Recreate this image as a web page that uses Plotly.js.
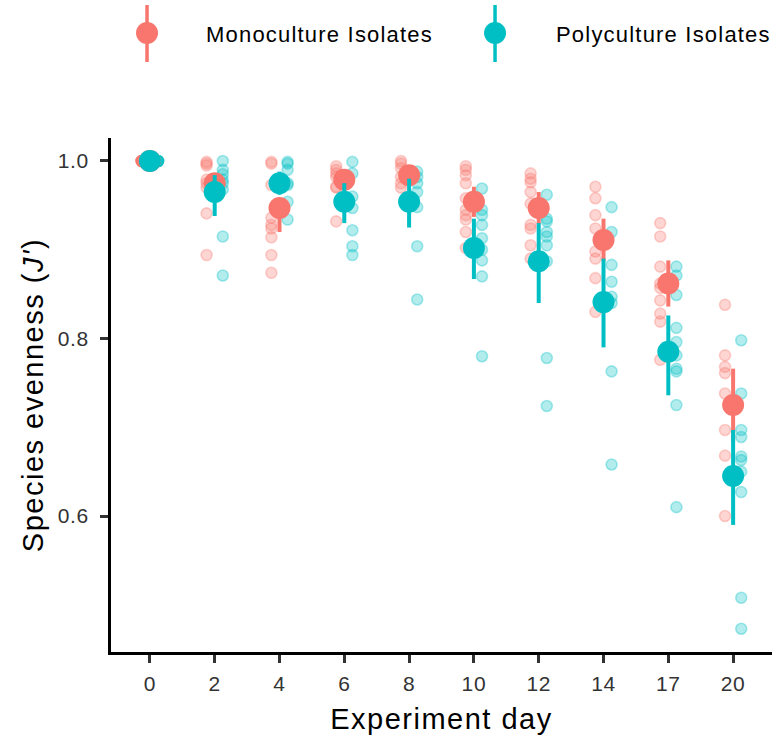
<!DOCTYPE html>
<html>
<head>
<meta charset="utf-8">
<script src="https://cdn.plot.ly/plotly-3.0.1.min.js"></script>
<style>
  html, body { margin: 0; padding: 0; background: #fff; }
  #chart { width: 776px; height: 744px; }
  /* slightly open tracking for the larger text */
  #chart .xtitle, #chart .ytitle { letter-spacing: 1.5px; }
  #chart .annotation-text { letter-spacing: 1.2px; }
  #chart .xtick text, #chart .ytick text { letter-spacing: 0.6px; }
</style>
</head>
<body>
<div id="chart"></div>
<script>
// Experiment days (discrete axis categories)
const days = ['0', '2', '4', '6', '8', '10', '12', '14', '17', '20'];

// Per-replicate evenness values, one list per day
const monoPoints = [
  [1.0, 1.0, 1.0, 1.0, 1.0, 1.0, 1.0, 1.0],
  [0.999, 0.997, 0.995, 0.979, 0.975, 0.970, 0.941, 0.894],
  [0.999, 0.997, 0.973, 0.936, 0.928, 0.924, 0.914, 0.894, 0.874],
  [0.994, 0.990, 0.986, 0.982, 0.971, 0.970, 0.932],
  [1.0, 0.997, 0.992, 0.982, 0.975, 0.970],
  [0.994, 0.990, 0.984, 0.975, 0.958, 0.945, 0.939, 0.934, 0.920, 0.902],
  [0.986, 0.980, 0.976, 0.965, 0.952, 0.928, 0.924, 0.905, 0.890],
  [0.971, 0.958, 0.939, 0.924, 0.898, 0.890, 0.868, 0.830],
  [0.930, 0.915, 0.881, 0.862, 0.857, 0.843, 0.828, 0.819, 0.776],
  [0.838, 0.781, 0.768, 0.761, 0.738, 0.697, 0.668, 0.600]
];
const polyPoints = [
  [1.0, 1.0, 1.0, 1.0, 1.0, 1.0],
  [1.0, 0.990, 0.985, 0.979, 0.975, 0.968, 0.915, 0.871],
  [0.999, 0.997, 0.990, 0.975, 0.973, 0.954, 0.934],
  [0.999, 0.986, 0.960, 0.947, 0.922, 0.904, 0.894],
  [0.988, 0.982, 0.975, 0.965, 0.948, 0.904, 0.844],
  [0.969, 0.945, 0.939, 0.928, 0.913, 0.900, 0.888, 0.870, 0.780],
  [0.962, 0.935, 0.932, 0.920, 0.915, 0.905, 0.887, 0.778, 0.724],
  [0.948, 0.920, 0.883, 0.864, 0.847, 0.840, 0.763, 0.658],
  [0.881, 0.871, 0.849, 0.812, 0.796, 0.781, 0.766, 0.763, 0.725, 0.610],
  [0.798, 0.738, 0.697, 0.689, 0.667, 0.663, 0.650, 0.627, 0.508, 0.473]
];

// Group means with lower / upper interval limits
const monoMean  = [1.0, 0.975, 0.947, 0.979, 0.984, 0.954, 0.947, 0.911, 0.862, 0.725];
const monoLow   = [1.0, 0.965, 0.920, 0.968, 0.975, 0.937, 0.929, 0.887, 0.836, 0.684];
const monoHigh  = [1.0, 0.985, 0.958, 0.990, 0.993, 0.971, 0.965, 0.935, 0.888, 0.766];
const polyMean  = [1.0, 0.965, 0.975, 0.954, 0.954, 0.902, 0.887, 0.841, 0.785, 0.645];
const polyLow   = [1.0, 0.938, 0.962, 0.930, 0.925, 0.867, 0.840, 0.790, 0.736, 0.590];
const polyHigh  = [1.0, 0.984, 0.988, 0.975, 0.980, 0.935, 0.930, 0.890, 0.826, 0.697];

const groupNames = ['Monoculture Isolates', 'Polyculture Isolates'];
const yTicks = [0.6, 0.8, 1.0];

const RED = '#F8766D';
const TEAL = '#00BFC4';
const FONT = 'Liberation Sans, Arial, Helvetica, sans-serif';
const DODGE = 0.125;

function flatten(groups, offset) {
  const x = [], y = [];
  groups.forEach((vals, i) => vals.forEach(v => { x.push(i + offset); y.push(v); }));
  return { x, y };
}

function pointTrace(groups, offset, rgb, name) {
  const d = flatten(groups, offset);
  return {
    type: 'scatter', mode: 'markers', name: name, showlegend: false,
    x: d.x, y: d.y, hoverinfo: 'y',
    marker: {
      size: 11,
      color: 'rgba(' + rgb + ',0.30)',
      line: { color: 'rgba(' + rgb + ',0.33)', width: 1.6 }
    }
  };
}

function meanTrace(mean, low, high, color, name) {
  return {
    type: 'scatter', mode: 'markers', name: name, showlegend: false,
    x: days.map((_, i) => i), y: mean,
    marker: { size: 22, color: color },
    error_y: {
      type: 'data', symmetric: false,
      array: high.map((h, i) => h - mean[i]),
      arrayminus: mean.map((m, i) => m - low[i]),
      color: color, thickness: 4, width: 0
    }
  };
}

const traces = [
  pointTrace(monoPoints, -DODGE, '248,118,109', groupNames[0]),
  pointTrace(polyPoints, DODGE, '0,191,196', groupNames[1]),
  meanTrace(monoMean, monoLow, monoHigh, RED, groupNames[0]),
  meanTrace(polyMean, polyLow, polyHigh, TEAL, groupNames[1])
];

// Legend key: vertical interval line with a filled dot, drawn above the panel
function legendKey(xp, color) {
  return [
    { type: 'line', xref: 'paper', yref: 'paper', xsizemode: 'pixel', ysizemode: 'pixel',
      xanchor: xp, yanchor: 1.2043, x0: 0, x1: 0, y0: -29, y1: 28,
      line: { color: color, width: 3.5 } },
    { type: 'circle', xref: 'paper', yref: 'paper', xsizemode: 'pixel', ysizemode: 'pixel',
      xanchor: xp, yanchor: 1.2043, x0: -11, x1: 11, y0: -11, y1: 11,
      fillcolor: color, line: { width: 0 } }
  ];
}

const layout = {
  width: 776, height: 744,
  margin: { l: 111, r: 4, t: 138, b: 92 },
  paper_bgcolor: '#fff', plot_bgcolor: '#fff',
  showlegend: false,
  font: { family: FONT, color: '#000' },
  xaxis: {
    range: [-0.6, 9.6],
    tickvals: days.map((_, i) => i), ticktext: days,
    showgrid: false, zeroline: false,
    showline: true, linecolor: '#000', linewidth: 3,
    ticks: 'outside', ticklen: 8, tickwidth: 3, tickcolor: '#333',
    ticklabelstandoff: 3,
    tickfont: { size: 21, color: '#333', family: FONT },
    title: { text: 'Experiment day', font: { size: 29, color: '#000', family: FONT }, standoff: 15 }
  },
  yaxis: {
    range: [0.4468, 1.0259],
    tickvals: yTicks, tickformat: '.1f',
    showgrid: false, zeroline: false,
    showline: true, linecolor: '#000', linewidth: 3,
    ticks: 'outside', ticklen: 8, tickwidth: 3, tickcolor: '#333',
    ticklabelstandoff: 7,
    tickfont: { size: 21, color: '#333', family: FONT },
    title: { text: "Species evenness (<i>J'</i>)", font: { size: 29, color: '#000', family: FONT }, standoff: 8 }
  },
  shapes: [].concat(legendKey(0.0545, RED), legendKey(0.581, TEAL)),
  annotations: [
    { xref: 'paper', yref: 'paper', x: 0.1588, y: 1.2005, xanchor: 'left', yanchor: 'middle',
      text: groupNames[0], showarrow: false, font: { size: 22, color: '#000', family: FONT } },
    { xref: 'paper', yref: 'paper', x: 0.6883, y: 1.2005, xanchor: 'left', yanchor: 'middle',
      text: groupNames[1], showarrow: false, font: { size: 22, color: '#000', family: FONT } }
  ]
};

Plotly.newPlot('chart', traces, layout, { displayModeBar: false, staticPlot: true });
</script>
</body>
</html>
